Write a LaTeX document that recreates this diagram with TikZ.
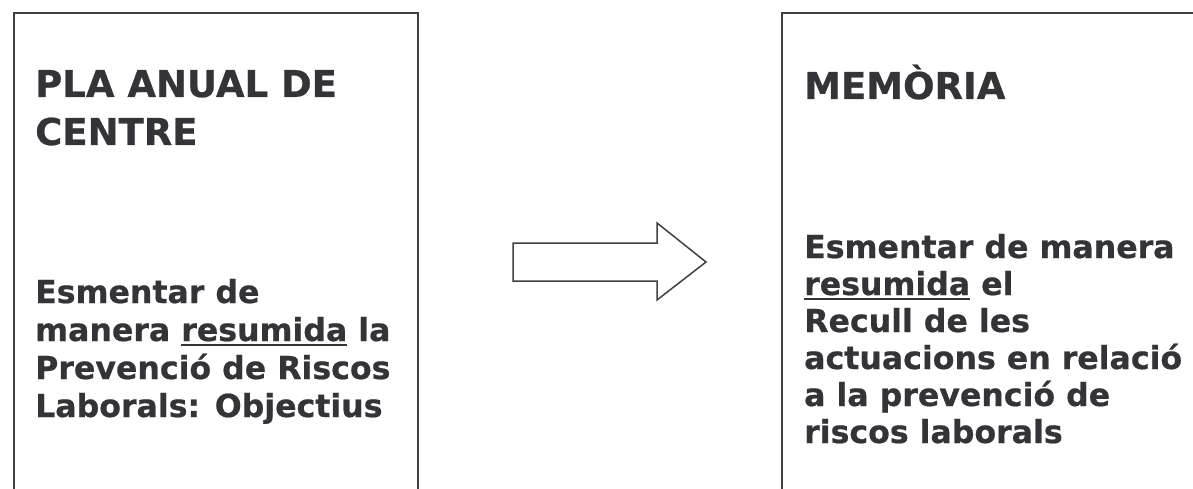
\documentclass[tikz,border=0pt]{standalone}
\usepackage{fontspec}
\setmainfont{DejaVu Sans}[BoldFeatures={FakeBold=0.6}]
\definecolor{txt}{RGB}{51,51,56}
\definecolor{frame}{RGB}{64,64,64}
\newcommand\myul[1]{\setbox0\hbox{#1}\rlap{\color{txt}\rule[-4.5pt]{\wd0}{1.8pt}}\box0\relax}
\begin{document}
\begin{tikzpicture}[x=1pt,y=-1pt,
  boxline/.style={draw=frame,line width=1.5pt},
  title/.style={anchor=base west,inner sep=0pt,text=txt,font=\fontsize{37}{48}\selectfont\bfseries},
  body/.style={anchor=base west,inner sep=0pt,text=txt,font=\fontsize{31.6}{37}\selectfont\bfseries}]
\useasboundingbox[fill=white] (0,0) rectangle (1193,489);
% frames
\draw[boxline] (14,492) -- (14,13) -- (418,13) -- (418,492);
\draw[boxline] (782,492) -- (782,13) -- (1196,13);
% arrow
\draw[boxline,fill=white,line join=miter] (513,243) -- (657,243) -- (657,223) -- (706,262) -- (657,300) -- (657,281) -- (513,281) -- cycle;
% left box
\node[title] (l1) at (35,97) {PLA ANUAL DE};
\node[title] (l2) at (35,145) {CENTRE};
\node[body] (l3) at (35,303) {Esmentar de};
\node[body] (l4) at (35,341) {manera \myul{resumida} la};
\node[body] (l5) at (35,379) {Prevenció de Riscos};
\node[body] (l6) at (35,417) {Laborals: Objectius};
% right box
\node[title] (r1) at (804,99) {MEMÒRIA};
\node[body] (r2) at (804,258) {Esmentar de manera};
\node[body] (r3) at (804,295) {\myul{resumida} el};
\node[body] (r4) at (804,332) {Recull de les};
\node[body] (r5) at (804,369) {actuacions en relació};
\node[body] (r6) at (804,406) {a la prevenció de};
\node[body] (r7) at (804,443) {riscos laborals};
\end{tikzpicture}
\end{document}
